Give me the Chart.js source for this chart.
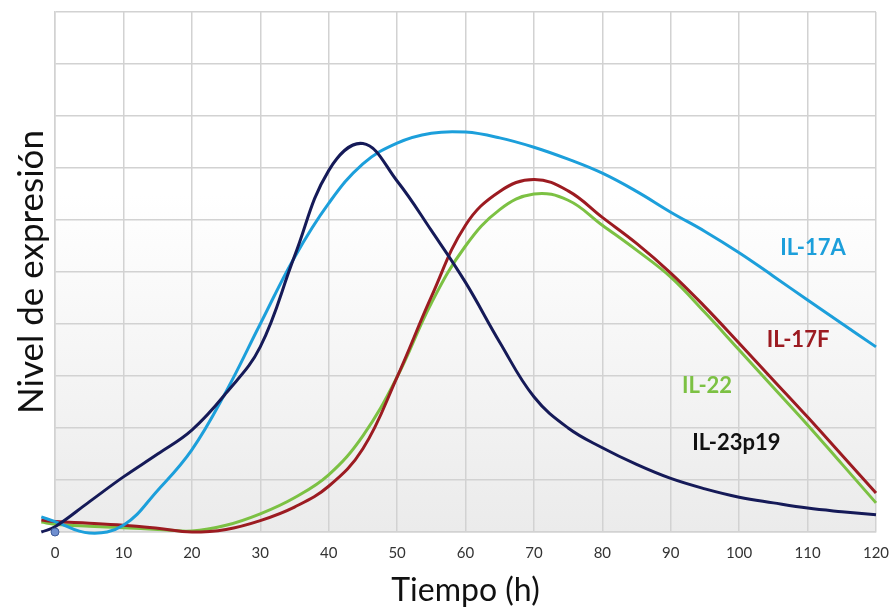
<!DOCTYPE html>
<html>
<head>
<meta charset="utf-8">
<script src="https://cdn.jsdelivr.net/npm/chart.js@4"></script>
<style>
  html, body { margin: 0; padding: 0; background: #fff; }
  #wrap { width: 891px; height: 607px; }
</style>
</head>
<body>
<div id="wrap"><canvas id="chart"></canvas></div>
<script>
/* expression curves, hours vs. relative level */

const X_TICKS = [0, 10, 20, 30, 40, 50, 60, 70, 80, 90, 100, 110, 120];

// sampling times (h) shared by every curve
const TIMES = [-2, 0, 5, 10, 15, 20, 25, 30, 35, 40, 45, 50, 55, 60, 65, 70, 75, 80, 85, 90, 95, 100, 105, 110, 115, 120];

const IL23 = [0, 0.1, 0.58, 1.06, 1.5, 1.96, 2.67, 3.56, 5.3, 6.95, 7.47, 6.75, 5.8, 4.8, 3.65, 2.6, 2.0, 1.62, 1.3, 1.03, 0.83, 0.67, 0.56, 0.46, 0.39, 0.33];
const IL17A = [0.29, 0.2, -0.02, 0.13, 0.8, 1.58, 2.7, 4.0, 5.28, 6.32, 7.08, 7.48, 7.67, 7.69, 7.58, 7.4, 7.17, 6.9, 6.55, 6.15, 5.78, 5.37, 4.92, 4.46, 4.01, 3.56];
const IL17F = [0.23, 0.2, 0.17, 0.13, 0.07, 0.0, 0.05, 0.22, 0.48, 0.88, 1.6, 2.98, 4.52, 5.9, 6.55, 6.78, 6.56, 6.05, 5.55, 4.98, 4.33, 3.63, 2.92, 2.21, 1.48, 0.75];
const IL22 = [0.19, 0.15, 0.11, 0.08, 0.05, 0.02, 0.13, 0.35, 0.66, 1.1, 1.85, 2.98, 4.4, 5.5, 6.2, 6.5, 6.38, 5.9, 5.42, 4.9, 4.22, 3.5, 2.78, 2.06, 1.31, 0.56];

const NAMES = ['IL-23p19', 'IL-17A', 'IL-17F', 'IL-22'];
const COLORS = ['#151a58', '#1c9fdb', '#9c1b21', '#7cc143'];
const LABEL_COLORS = ['#111111', '#1c9fdb', '#9c1b21', '#7cc143'];
const LABEL_X = [99.6, 110.8, 108.6, 95.3];
const LABEL_Y = [1.71, 5.46, 3.69, 2.81];

const FONT = 'Lato, "Open Sans", sans-serif';

function pts(vs) { return TIMES.map((t, i) => ({ x: t, y: vs[i] })); }

const SERIES = [pts(IL23), pts(IL17A), pts(IL17F), pts(IL22)];

/* ---------- plot background: white fading to light grey ---------- */
const bgPlugin = {
  id: 'bg',
  beforeDraw(chart) {
    const { ctx, chartArea: a } = chart;
    ctx.save();
    ctx.fillStyle = '#fff';
    ctx.fillRect(0, 0, chart.width, chart.height);
    const g = ctx.createLinearGradient(0, a.top, 0, a.bottom);
    g.addColorStop(0, '#ffffff');
    g.addColorStop(0.35, '#ffffff');
    g.addColorStop(1, '#ebebeb');
    ctx.fillStyle = g;
    ctx.fillRect(a.left, a.top, a.right - a.left, a.bottom - a.top);
    ctx.restore();
  },
};

/* ---------- curve names written next to the lines ---------- */
const labelPlugin = {
  id: 'names',
  afterDatasetsDraw(chart) {
    const { ctx, scales: { x, y } } = chart;
    ctx.save();
    ctx.font = 'bold 22px ' + FONT;
    ctx.textAlign = 'center';
    ctx.textBaseline = 'middle';
    NAMES.forEach((n, i) => {
      ctx.fillStyle = LABEL_COLORS[i];
      ctx.fillText(n, x.getPixelForValue(LABEL_X[i]), y.getPixelForValue(LABEL_Y[i]));
    });
    ctx.restore();
  },
};

const datasets = SERIES.map((data, i) => ({
  label: NAMES[i], data, borderColor: COLORS[i], borderWidth: 3,
  pointRadius: 0, tension: 0.4, clip: false, order: 1,
}));
// small marker at the origin
datasets.push({ label: 'origin', data: [{ x: 0, y: 0 }], showLine: false, pointRadius: 4,
  pointBackgroundColor: '#6f8fd0', pointBorderColor: '#3d5a99', pointBorderWidth: 1, clip: false, order: 0 });

new Chart(document.getElementById('chart'), {
  type: 'line',
  data: { datasets },
  options: {
    responsive: true, maintainAspectRatio: false, animation: false,
    layout: { padding: { left: 11, right: 5, top: 12, bottom: 0 } },
    plugins: { legend: { display: false }, tooltip: { enabled: false } },
    scales: {
      x: {
        type: 'linear', min: 0, max: 120,
        afterBuildTicks: (s) => { s.ticks = X_TICKS.map((v) => ({ value: v })); },
        afterFit: (s) => { s.height = 75; s.paddingRight = 15; s.paddingLeft = 0; },
        grid: { color: '#d2d2d2', lineWidth: 1.5, drawTicks: false },
        border: { color: '#d2d2d2', width: 1.5 },
        ticks: { color: '#333', padding: 12, font: { family: FONT, size: 15 } },
        title: { display: true, text: 'Tiempo (h)', color: '#111', padding: { top: 0, bottom: -3 },
          font: { family: FONT, size: 32 } },
      },
      y: {
        min: 0, max: 10,
        ticks: { display: false, stepSize: 1 },
        grid: { color: '#d2d2d2', lineWidth: 1.5, drawTicks: false },
        border: { color: '#d2d2d2', width: 1.5 },
        title: { display: true, text: 'Nivel de expresión', color: '#111', padding: { top: 0, bottom: 2 },
          font: { family: FONT, size: 35 } },
      },
    },
  },
  plugins: [bgPlugin, labelPlugin],
});
</script>
</body>
</html>
